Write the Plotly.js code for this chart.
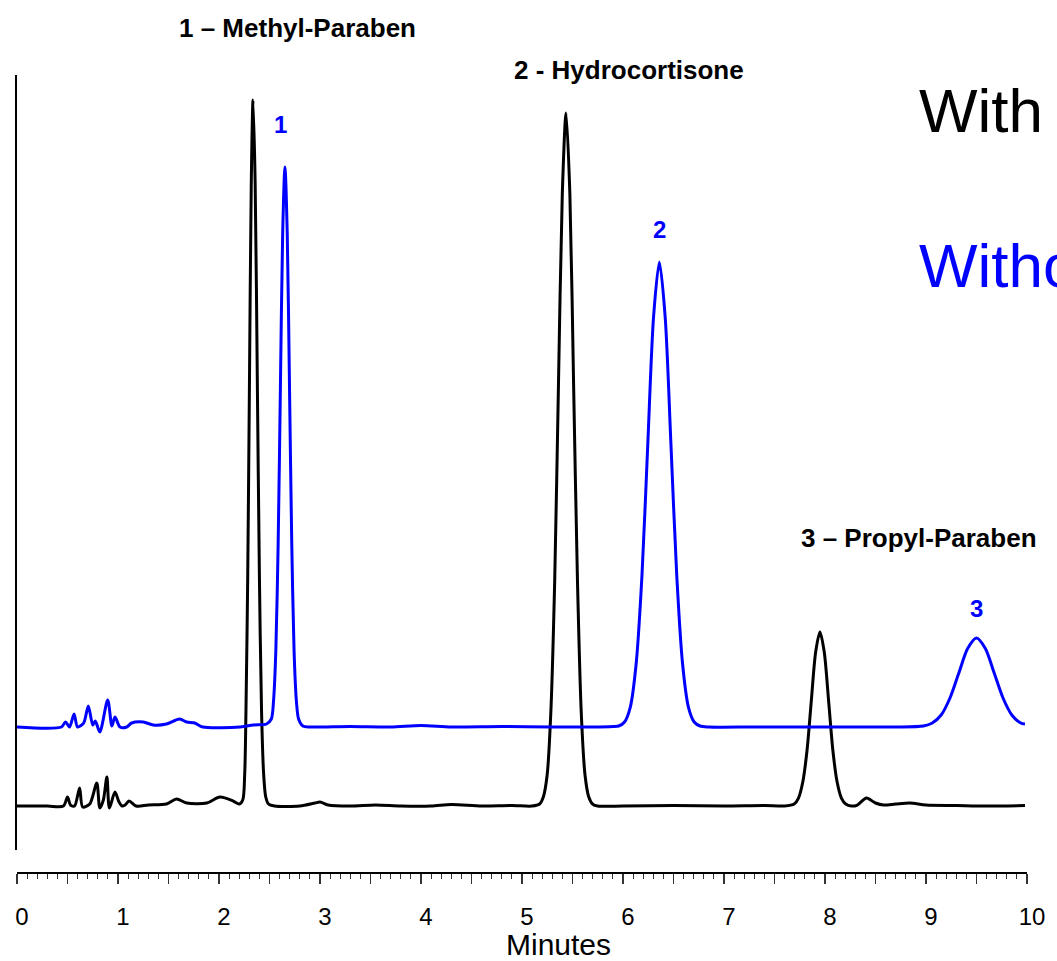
<!DOCTYPE html>
<html>
<head>
<meta charset="utf-8">
<script src="https://cdn.plot.ly/plotly-3.0.1.min.js"></script>
<style>html,body{margin:0;padding:0;background:#fff;overflow:hidden;}</style>
</head>
<body>
<div id="chart" style="width:1057px;height:961px;"></div>
<script>
// Retention time (minutes) and detector response (arbitrary units)
const withTime = [0, 0.3, 0.46, 0.50, 0.53, 0.57, 0.62, 0.65, 0.72, 0.79, 0.82, 0.855, 0.89, 0.915, 0.97, 1.01, 1.04, 1.07, 1.11, 1.18, 1.3, 1.48, 1.58, 1.68, 1.88, 2.01, 2.14, 2.2,
  2.235, 2.2545, 2.267, 2.2845, 2.302, 2.3195, 2.337, 2.358, 2.379, 2.40, 2.421, 2.442, 2.463, 2.49,
  2.55, 2.8, 2.95, 3.0, 3.08, 3.3, 3.55, 3.8, 4.1, 4.3, 4.6, 4.9, 5.1,
  5.174, 5.211, 5.249, 5.286, 5.324, 5.361, 5.399, 5.436, 5.474, 5.511, 5.549, 5.586, 5.624, 5.661, 5.699,
  5.75, 6.0, 6.5, 7.0, 7.4, 7.6,
  7.695, 7.7375, 7.78, 7.8225, 7.865, 7.9075, 7.95, 7.9925, 8.035, 8.0775, 8.12, 8.1625, 8.205,
  8.26, 8.32, 8.41, 8.5, 8.58, 8.7, 8.84, 9.0, 9.3, 9.6, 9.98];
const withSignal = [44, 44, 44, 53, 45, 44, 62, 43, 46, 67, 42, 50, 73, 42, 58, 48, 44, 45, 49, 44, 45, 46, 51, 47, 47, 53, 49, 46,
  50, 76, 140, 274, 473, 667, 750, 667, 473, 274, 140, 76, 53, 46,
  44, 44, 47, 48, 45, 44, 45, 44, 44, 45.5, 44, 44.5, 44,
  46, 53, 75, 139, 270, 465, 656, 737, 656, 465, 270, 139, 75, 53, 46,
  44, 44, 44.5, 44, 44.5, 44,
  46, 52, 68, 100, 150, 198, 218, 198, 150, 100, 68, 52, 46,
  44, 45, 52, 47, 45, 46, 47, 45, 44.5, 44, 44.5];

const withoutTime = [0, 0.44, 0.48, 0.52, 0.565, 0.60, 0.66, 0.706, 0.75, 0.775, 0.82, 0.898, 0.94, 0.97, 1.02, 1.086, 1.135, 1.25, 1.35, 1.48, 1.61, 1.68, 1.76, 1.84, 2.21, 2.34, 2.47,
  2.518, 2.5405, 2.563, 2.5855, 2.608, 2.6305, 2.653, 2.6755, 2.698, 2.7205, 2.743, 2.7655, 2.788,
  2.83, 2.9, 3.3, 3.7, 4.0, 4.3, 4.8, 5.3, 5.7, 5.9,
  5.9575, 6.015, 6.0725, 6.13, 6.1875, 6.245, 6.3025, 6.36, 6.4175, 6.475, 6.5325, 6.59, 6.6475, 6.705, 6.7625,
  6.85, 7.3, 7.8, 8.3, 8.7,
  8.975, 9.0625, 9.15, 9.2375, 9.325, 9.4125, 9.50, 9.5875, 9.675, 9.7625, 9.85, 9.9375, 9.98];
const withoutSignal = [123, 123, 128, 123, 136, 123, 127, 144, 125, 129, 118, 150, 124, 133, 123, 123, 127, 128, 125, 126, 131, 128, 127, 123, 123, 125, 126,
  131, 150, 200, 306, 463, 617, 683, 617, 463, 306, 200, 150, 131,
  124, 123, 123.5, 123, 124.5, 123, 123.5, 123, 123, 123.5,
  124, 128, 143, 186, 274, 405, 533, 588, 533, 405, 274, 186, 143, 128, 124,
  123, 123, 123, 123, 123,
  124, 127, 135, 152, 177, 201.5, 212, 201.5, 177, 152, 135, 127, 126];

const tickVals = [0, 0.5, 1, 1.5, 2, 2.5, 3, 3.5, 4, 4.5, 5, 5.5, 6, 6.5, 7, 7.5, 8, 8.5, 9, 9.5, 10];
const tickText = ['0', '', '1', '', '2', '', '3', '', '4', '', '5', '', '6', '', '7', '', '8', '', '9', '', '10'];

const compoundLabels = ['1 – Methyl-Paraben', '2 - Hydrocortisone', '3 – Propyl-Paraben'];
const peakNumbers = ['1', '2', '3'];
const seriesNames = ['With', 'Without'];
const axisTitle = 'Minutes';

const FONT = 'Liberation Sans, Arial, Helvetica, sans-serif';

const traces = [
  {x: withTime, y: withSignal, type: 'scatter', mode: 'lines', name: seriesNames[0],
   line: {color: '#000000', width: 3, shape: 'spline', smoothing: 0.8}},
  {x: withoutTime, y: withoutSignal, type: 'scatter', mode: 'lines', name: seriesNames[1],
   line: {color: '#0000ff', width: 3, shape: 'spline', smoothing: 0.8}}
];

const ann = (text, x, y, size, color, bold, xanchor) => ({
  text: bold ? '<b>' + text + '</b>' : text, x: x, y: y, xref: 'paper', yref: 'paper',
  showarrow: false, xanchor: xanchor || 'center', yanchor: 'middle',
  font: {family: FONT, size: size, color: color}
});

const layout = {
  width: 1057, height: 961,
  margin: {l: 17, r: 30, t: 75, b: 88},
  paper_bgcolor: '#ffffff', plot_bgcolor: '#ffffff',
  showlegend: false,
  xaxis: {
    range: [0, 10], anchor: 'free', position: 0,
    showgrid: false, zeroline: false,
    showline: true, linecolor: '#000', linewidth: 2,
    tickmode: 'array', tickvals: tickVals, ticktext: tickText,
    ticks: 'outside', ticklen: 10, tickwidth: 1.5, tickcolor: '#333',
    ticklabelstandoff: 12, ticklabelshift: 5,
    tickfont: {family: FONT, size: 24, color: '#000'},
    minor: {dtick: 0.1, tick0: 0, ticks: 'outside', ticklen: 5, tickwidth: 1, tickcolor: '#333', showgrid: false}
  },
  yaxis: {
    range: [0, 775], domain: [0.0288, 1],
    showgrid: false, zeroline: false, showticklabels: false, ticks: '',
    showline: true, linecolor: '#000', linewidth: 2
  },
  annotations: [
    ann(compoundLabels[0], 0.2777, 1.0585, 26, '#000', true),
    ann(compoundLabels[1], 0.606, 1.0059, 26, '#000', true),
    ann(compoundLabels[2], 0.8926, 0.4198, 26, '#000', true),
    ann(peakNumbers[0], 0.2604, 0.938, 24, '#0000ff', true),
    ann(peakNumbers[1], 0.6363, 0.8058, 24, '#0000ff', true),
    ann(peakNumbers[2], 0.9502, 0.3316, 24, '#0000ff', true),
    ann(seriesNames[0], 0.891, 0.955, 62, '#000', false, 'left'),
    ann(seriesNames[1], 0.891, 0.7613, 62, '#0000ff', false, 'left'),
    ann(axisTitle, 0.5366, -0.089, 30, '#000', false)
  ]
};

Plotly.newPlot('chart', traces, layout, {displayModeBar: false, staticPlot: true});
</script>
</body>
</html>
